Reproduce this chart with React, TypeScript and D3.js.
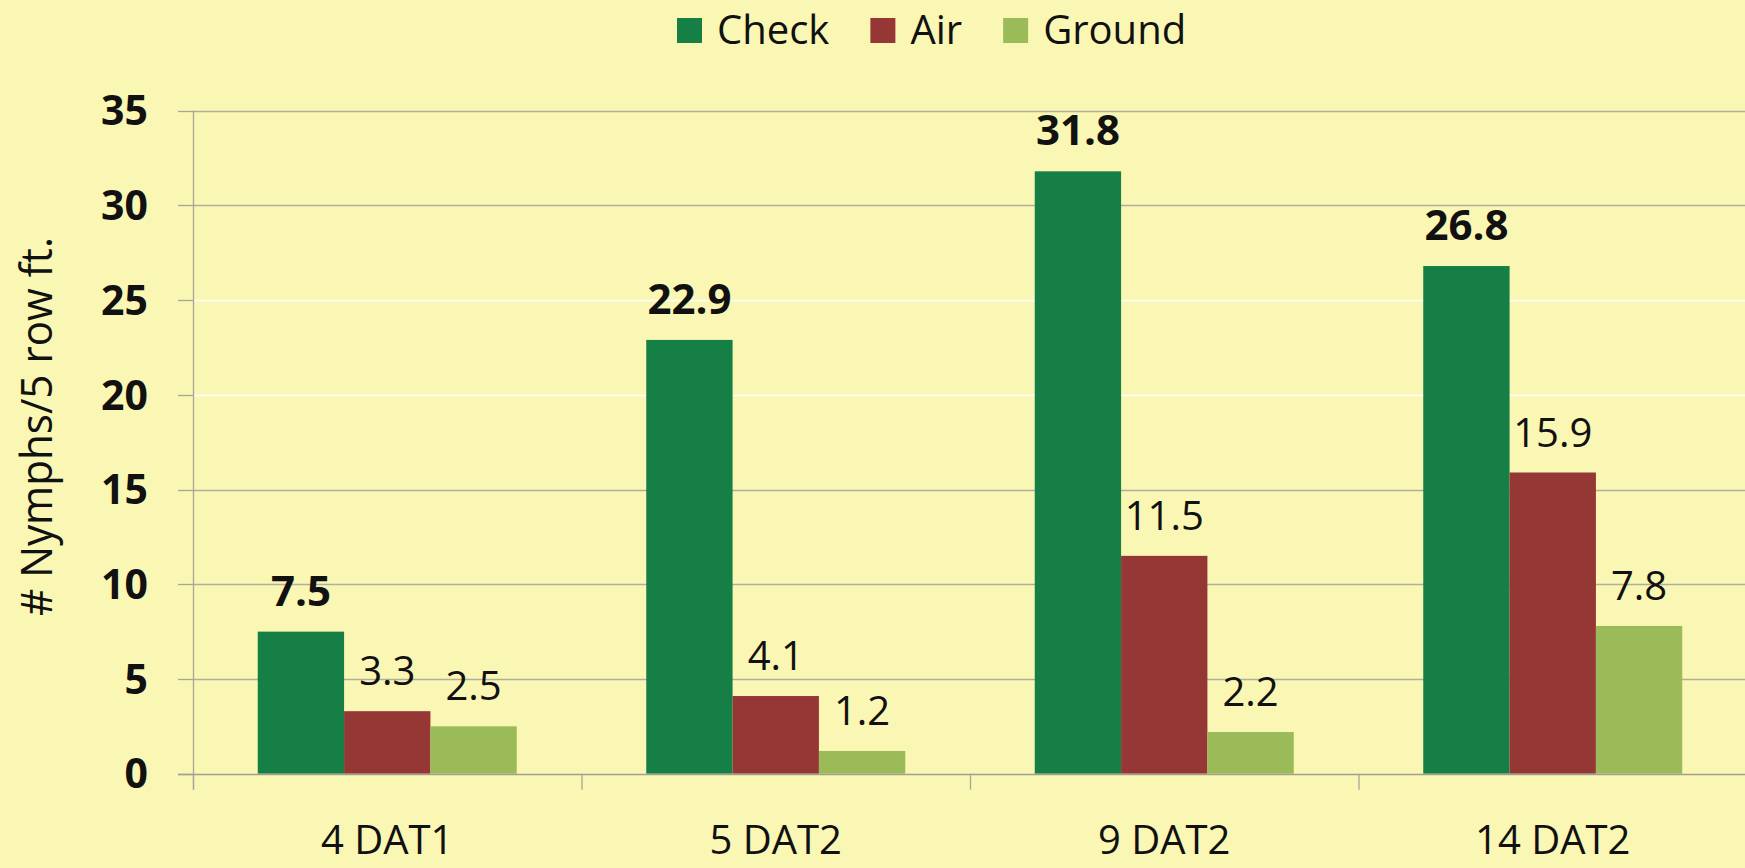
import React, { useEffect, useRef } from "react";
import * as d3 from "d3";

const categories = ["4 DAT1", "5 DAT2", "9 DAT2", "14 DAT2"];
const seriesNames = ["Check", "Air", "Ground"];
const checkValues = [7.5, 22.9, 31.8, 26.8];
const airValues = [3.3, 4.1, 11.5, 15.9];
const groundValues = [2.5, 1.2, 2.2, 7.8];
const yTicks = [0, 5, 10, 15, 20, 25, 30, 35];
const yTitle = "# Nymphs/5 row ft.";

const colors = ["#167f45", "#953735", "#9bbb59"];
const W = 1745;
const H = 868;
const BG = "#faf6b4";
const FONT = "'Open Sans', 'DejaVu Sans', sans-serif";

export default function App() {
  const ref = useRef<SVGSVGElement | null>(null);

  useEffect(() => {
    const svg = d3.select(ref.current);
    svg.selectAll("*").remove();

    const left = 193;
    const right = 1747;
    const top = 110.7;
    const bottom = 773.7;

    const y = d3.scaleLinear().domain([0, 35]).range([bottom, top]);
    const x0 = d3
      .scaleBand<string>()
      .domain(categories)
      .range([left, right])
      .paddingInner(1 / 3)
      .paddingOuter(1 / 6);
    const x1 = d3.scaleBand<string>().domain(seriesNames).range([0, x0.bandwidth()]);
    const step = x0.step();

    svg.append("rect").attr("width", W).attr("height", H).attr("fill", BG);

    // gridlines
    const g = svg.append("g");
    g.selectAll("line.grid")
      .data(yTicks.filter((t) => t > 0))
      .join("line")
      .attr("x1", left)
      .attr("x2", W)
      .attr("y1", (d) => Math.round(y(d)) + 0.5)
      .attr("y2", (d) => Math.round(y(d)) + 0.5)
      .attr("stroke", (d) => (d === 20 || d === 25 ? "#ffffff" : "#b0ae9c"))
      .attr("stroke-width", 1.4);

    // y tick marks
    g.selectAll("line.ytick")
      .data(yTicks)
      .join("line")
      .attr("x1", left - 15)
      .attr("x2", left)
      .attr("y1", (d) => Math.round(y(d)) + 0.5)
      .attr("y2", (d) => Math.round(y(d)) + 0.5)
      .attr("stroke", "#a8a698")
      .attr("stroke-width", 1.3);

    // y tick labels
    g.selectAll("text.ylab")
      .data(yTicks)
      .join("text")
      .attr("x", 148)
      .attr("y", (d) => y(d))
      .attr("dy", "0.36em")
      .attr("text-anchor", "end")
      .attr("font-family", FONT)
      .attr("font-weight", 700)
      .attr("font-size", 41)
      .attr("fill", "#111")
      .text((d) => String(d));

    // bars
    const seriesData = [checkValues, airValues, groundValues];
    const rows = categories.flatMap((c, i) =>
      seriesNames.map((s, j) => ({ c, s, j, v: seriesData[j][i] }))
    );
    svg
      .append("g")
      .selectAll("rect")
      .data(rows)
      .join("rect")
      .attr("x", (d) => (x0(d.c) as number) + (x1(d.s) as number))
      .attr("y", (d) => y(d.v))
      .attr("width", x1.bandwidth())
      .attr("height", (d) => y(0) - y(d.v))
      .attr("fill", (d) => colors[d.j]);

    // x axis baseline
    svg
      .append("line")
      .attr("x1", left - 15)
      .attr("x2", W)
      .attr("y1", Math.round(bottom) + 0.5)
      .attr("y2", Math.round(bottom) + 0.5)
      .attr("stroke", "#a0a090")
      .attr("stroke-width", 1.5);

    // y axis line
    svg
      .append("line")
      .attr("x1", left + 0.5)
      .attr("x2", left + 0.5)
      .attr("y1", top)
      .attr("y2", bottom + 16)
      .attr("stroke", "#a8a698")
      .attr("stroke-width", 1.3);

    // category ticks
    svg
      .append("g")
      .selectAll("line")
      .data(d3.range(categories.length + 1))
      .join("line")
      .attr("x1", (i) => left + i * step + 0.5)
      .attr("x2", (i) => left + i * step + 0.5)
      .attr("y1", bottom)
      .attr("y2", bottom + 16)
      .attr("stroke", "#a8a698")
      .attr("stroke-width", 1.3);

    // category labels
    svg
      .append("g")
      .selectAll("text")
      .data(categories)
      .join("text")
      .attr("x", (d) => (x0(d) as number) + x0.bandwidth() / 2)
      .attr("y", 854)
      .attr("text-anchor", "middle")
      .attr("font-family", FONT)
      .attr("font-size", 40)
      .attr("fill", "#111")
      .text((d) => d);

    // bar labels
    svg
      .append("g")
      .selectAll("text")
      .data(rows)
      .join("text")
      .attr("x", (d) => (x0(d.c) as number) + (x1(d.s) as number) + x1.bandwidth() / 2)
      .attr("y", (d) => y(d.v) - 26)
      .attr("text-anchor", "middle")
      .attr("font-family", FONT)
      .attr("font-weight", (d) => (d.j === 0 ? 700 : 400))
      .attr("font-size", (d) => (d.j === 0 ? 42 : 40))
      .attr("fill", "#111")
      .text((d) => d.v.toFixed(1));

    // y title
    svg
      .append("text")
      .attr("transform", `translate(52, ${(237 + 616) / 2}) rotate(-90)`)
      .attr("text-anchor", "middle")
      .attr("font-family", FONT)
      .attr("font-size", 44)
      .attr("textLength", 379)
      .attr("lengthAdjust", "spacingAndGlyphs")
      .attr("fill", "#111")
      .text(yTitle);

    // legend
    const leg = svg.append("g");
    let cx = 677;
    seriesNames.forEach((s, j) => {
      leg
        .append("rect")
        .attr("x", cx)
        .attr("y", 18)
        .attr("width", 25)
        .attr("height", 25)
        .attr("fill", colors[j]);
      const t = leg
        .append("text")
        .attr("x", cx + 40)
        .attr("y", 44)
        .attr("font-family", FONT)
        .attr("font-size", 40)
        .attr("fill", "#111")
        .text(s);
      const w = (t.node() as SVGTextElement).getComputedTextLength();
      cx = cx + 40 + w + 41;
    });
  }, []);

  return (
    <svg
      ref={ref}
      width={W}
      height={H}
      style={{ position: "absolute", left: 0, top: 0, display: "block" }}
    />
  );
}
